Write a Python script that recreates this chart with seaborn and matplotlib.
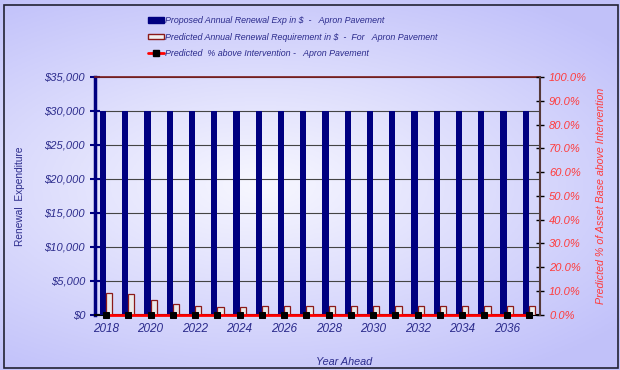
import numpy as np
import pandas as pd
import matplotlib
matplotlib.use("Agg")
import matplotlib.pyplot as plt
import seaborn as sns
from matplotlib.patches import Rectangle, Patch
from matplotlib.lines import Line2D
from matplotlib.ticker import FuncFormatter

# Données
years = list(range(2018, 2038))
proposed = [30000] * 20
predicted = [3200, 3050, 2200, 1600, 1300, 1100, 1100, 1250, 1250, 1250,
             1250, 1300, 1300, 1300, 1300, 1350, 1350, 1350, 1350, 1350]
pct_above = [0.0] * 20

lbl_prop = "Proposed Annual Renewal Exp in $  -   Apron Pavement"
lbl_pred = "Predicted Annual Renewal Requirement in $  -  For   Apron Pavement"
lbl_pct = "Predicted  % above Intervention -   Apron Pavement"

navy = "#000080"
txt_navy = "#2B2B8C"
red_txt = "#FF3B3B"

df = pd.DataFrame({
    "year": [str(y) for y in years] * 2,
    "value": proposed + predicted,
    "serie": ["prop"] * 20 + ["pred"] * 20,
})

sns.set_style("white")
plt.rcParams["font.family"] = ["Liberation Sans", "DejaVu Sans"]

fig = plt.figure(figsize=(6.2, 3.7), dpi=100)

# fond dégradé
bg = fig.add_axes([0, 0, 1, 1], zorder=-10)
yy, xx = np.mgrid[0:1:200j, 0:1:200j]
d = np.sqrt(((xx - 0.42) / 0.75) ** 2 + ((yy - 0.5) / 0.6) ** 2)
d = np.clip(d, 0, 1)
c0 = np.array([0.97, 0.97, 1.0])
c1 = np.array([0.76, 0.76, 0.98])
img = c0[None, None, :] * (1 - d[..., None]) + c1[None, None, :] * d[..., None]
bg.imshow(img, extent=[0, 1, 0, 1], aspect="auto")
bg.set_axis_off()
fig.patches.append(Rectangle((0.007, 0.005), 0.99, 0.982, transform=fig.transFigure,
                             fill=False, edgecolor="#222233", linewidth=1.2))

ax = fig.add_axes([0.153, 0.149, 0.718, 0.643])
ax.set_facecolor("none")
sns.barplot(data=df, x="year", y="value", hue="serie", hue_order=["prop", "pred"],
            palette={"prop": navy, "pred": "#EAEAEA"}, width=0.56, gap=0,
            saturation=1, legend=False, ax=ax, zorder=3)
for p in ax.patches[:20]:
    p.set_linewidth(0)
for p in ax.patches[20:40]:
    p.set_edgecolor("#8B1A1A")
    p.set_linewidth(0.9)

ax.set_xlim(-0.5, 19.5)
ax.set_ylim(0, 35000)
ax.set_yticks(range(0, 35001, 5000))
ax.yaxis.set_major_formatter(FuncFormatter(lambda v, _: f"${v:,.0f}"))
ax.grid(axis="y", color="#444444", linewidth=0.8, zorder=0)
ax.set_axisbelow(True)

ax.set_xticks(np.arange(-0.5, 20, 1))
ax.set_xticklabels([])
ax.set_xticks(np.arange(0, 20, 2), minor=True)
ax.set_xticklabels([str(y) for y in years[::2]], minor=True, style="italic",
                   fontsize=8.5, color=txt_navy)
ax.tick_params(axis="x", which="major", direction="inout", length=5, color="black", width=1)
ax.tick_params(axis="x", which="minor", length=0, pad=6)
ax.tick_params(axis="y", direction="inout", length=7, color=navy, width=1.5,
               labelsize=8, labelcolor=txt_navy)
for t in ax.get_yticklabels():
    t.set_style("italic")

ax.spines["left"].set_color(navy)
ax.spines["left"].set_linewidth(2.5)
ax.spines["top"].set_color("#7A1A1A")
ax.spines["top"].set_linewidth(1.2)
ax.spines["bottom"].set_color("black")
ax.spines["bottom"].set_linewidth(1.5)
ax.spines["right"].set_visible(False)

ax.set_xlabel("Year Ahead", style="italic", fontsize=7.8, color=txt_navy)
ax.xaxis.set_label_coords(0.56, -0.175)
ax.set_ylabel("Renewal  Expenditure", fontsize=7.3, color=txt_navy)
ax.yaxis.set_label_coords(-0.157, 0.5)

ax2 = ax.twinx()
sns.lineplot(x=np.arange(20), y=pct_above, ax=ax2, color="#FF0000", linewidth=2,
             marker="s", markersize=5, markerfacecolor="black", markeredgecolor="black",
             zorder=5, clip_on=False)
ax2.set_ylim(0, 1)
ax2.set_yticks(np.arange(0, 1.01, 0.1))
ax2.yaxis.set_major_formatter(FuncFormatter(lambda v, _: f"{v * 100:.1f}%"))
ax2.tick_params(axis="y", direction="inout", length=6, color="black", width=1,
                labelsize=8, labelcolor=red_txt)
for t in ax2.get_yticklabels():
    t.set_style("italic")
for s in ["left", "top", "bottom"]:
    ax2.spines[s].set_visible(False)
ax2.spines["right"].set_color("#553838")
ax2.spines["right"].set_linewidth(1.5)
ax2.set_ylabel("Predicted % of Asset Base above Intervention", style="italic",
               fontsize=7.7, color=red_txt)
ax2.yaxis.set_label_coords(1.125, 0.5)

handles = [
    Patch(facecolor=navy, edgecolor=navy),
    Patch(facecolor="#F0F0F0", edgecolor="#8B1A1A"),
    Line2D([0], [0], color="#FF0000", linewidth=2, marker="s", markersize=4,
           markerfacecolor="black", markeredgecolor="black"),
]
leg = fig.legend(handles, [lbl_prop, lbl_pred, lbl_pct], loc="upper left",
                 bbox_to_anchor=(0.225, 0.978), frameon=False, fontsize=6.4,
                 handlelength=1.9, handleheight=0.6, handletextpad=0.1,
                 labelspacing=0.85)
for t in leg.get_texts():
    t.set_color(txt_navy)
    t.set_style("italic")

fig.savefig("out.png", dpi=100)
